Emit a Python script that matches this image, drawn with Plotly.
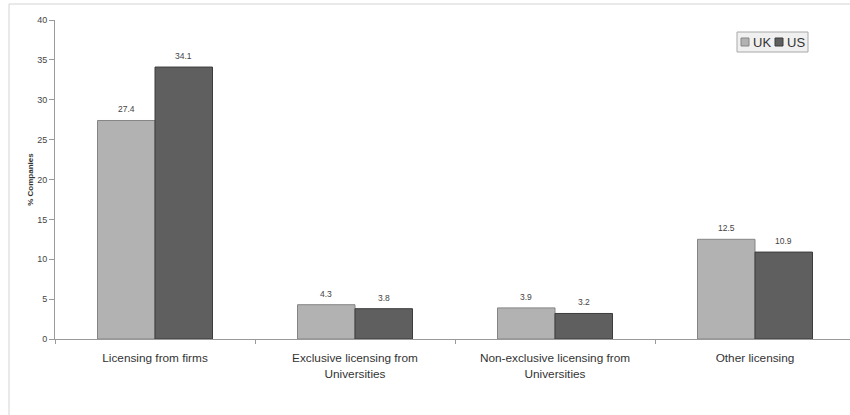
import plotly.graph_objects as go

# ---- data -------------------------------------------------------------
categories = [
    "Licensing from firms",
    "Exclusive licensing from<br>Universities",
    "Non-exclusive licensing from<br>Universities",
    "Other licensing",
]
uk_values = [27.4, 4.3, 3.9, 12.5]
us_values = [34.1, 3.8, 3.2, 10.9]
series_names = ["UK", "US"]
y_ticks = [0, 5, 10, 15, 20, 25, 30, 35, 40]

# ---- layout geometry (pixels) -------------------------------------------
W, H = 850, 415
ML, MR, MT, MB = 55, 0, 20, 76
PW = W - ML - MR
PH = H - MT - MB

FONT = "Liberation Sans, Arial, sans-serif"
UK_FILL, UK_LINE = "#b2b2b2", "#858585"
US_FILL, US_LINE = "#5f5f5f", "#3c3c3c"
BARGAP = 0.425
HALF = (1 - BARGAP) / 4  # offset of each bar centre from the category centre


def px_x(p):
    return (p - ML) / PW


def px_y(p):
    return (H - MB - p) / PH


fig = go.Figure()
for name, vals, fill, line in [
    (series_names[0], uk_values, UK_FILL, UK_LINE),
    (series_names[1], us_values, US_FILL, US_LINE),
]:
    fig.add_trace(
        go.Bar(
            name=name,
            x=categories,
            y=vals,
            marker=dict(color=fill, line=dict(color=line, width=1)),
            showlegend=False,
        )
    )

# value labels above each bar
for i in range(len(categories)):
    for vals, off in [(uk_values, -HALF), (us_values, HALF)]:
        fig.add_annotation(
            x=i + off,
            y=vals[i],
            text=f"{vals[i]:.1f}",
            showarrow=False,
            yanchor="middle",
            yshift=11,
            font=dict(family=FONT, size=8.5, color="#444444"),
        )

# outer chart frame
fig.add_shape(
    type="rect", xref="paper", yref="paper",
    x0=px_x(9), x1=px_x(W + 20), y0=px_y(H + 20), y1=px_y(4),
    line=dict(color="#d4d4d4", width=1), fillcolor="rgba(0,0,0,0)", layer="below",
)

# legend box
fig.add_shape(
    type="rect", xref="paper", yref="paper",
    x0=px_x(737), x1=px_x(808), y0=px_y(52), y1=px_y(32),
    line=dict(color="#a8a8a8", width=1), fillcolor="#f0f0f0",
)
for name, fill, line, sx, tx in [
    (series_names[0], UK_FILL, UK_LINE, 741, 751),
    (series_names[1], US_FILL, US_LINE, 775, 785),
]:
    fig.add_shape(
        type="rect", xref="paper", yref="paper",
        x0=px_x(sx), x1=px_x(sx + 8), y0=px_y(46), y1=px_y(38),
        line=dict(color=line, width=1), fillcolor=fill,
    )
    fig.add_annotation(
        xref="paper", yref="paper", x=px_x(tx), y=px_y(42),
        text=name, showarrow=False, xanchor="left", yanchor="middle",
        font=dict(family=FONT, size=13, color="#333333"),
    )

fig.update_layout(
    width=W, height=H,
    margin=dict(l=ML, r=MR, t=MT, b=MB),
    paper_bgcolor="white", plot_bgcolor="white",
    barmode="group", bargap=BARGAP, bargroupgap=0,
    font=dict(family=FONT, color="#333333"),
)
fig.update_xaxes(
    range=[-0.5, -0.5 + PW / 200],
    showline=True, linecolor="#9a9a9a", linewidth=1,
    ticks="outside", tickson="boundaries", ticklen=4, tickcolor="#9a9a9a",
    showgrid=False, zeroline=False,
    tickfont=dict(family=FONT, size=11.8, color="#333333"),
    ticklabelstandoff=8,
)
fig.update_yaxes(
    range=[0, 40], tickvals=y_ticks,
    showline=True, linecolor="#9a9a9a", linewidth=1,
    ticks="outside", ticklen=5, tickcolor="#9a9a9a",
    showgrid=False, zeroline=False,
    tickfont=dict(family=FONT, size=9, color="#444444"),
    title=dict(text="<b>% Companies</b>", font=dict(family=FONT, size=8, color="#333333"), standoff=2),
)

fig.write_html("out.html")
